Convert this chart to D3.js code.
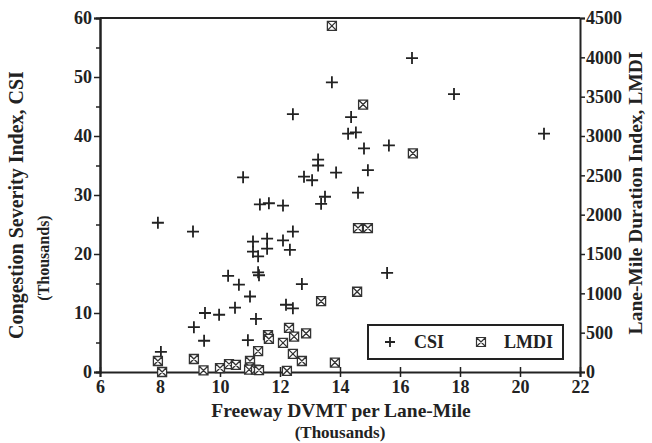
<!DOCTYPE html>
<html>
<head>
<meta charset="utf-8">
<script src="https://cdn.jsdelivr.net/npm/d3@7"></script>
<style>
  body { margin: 0; background: #fff; }
  text { font-family: "Liberation Serif", "Times New Roman", serif; font-weight: bold; fill: #222; }
</style>
</head>
<body>
<script>
// CSI points: x = DVMT per lane-mile (thousands), y = CSI (thousands)
const csiX = [7.93, 9.1, 8.03, 9.13, 9.47, 9.5, 9.97, 10.27, 10.5, 10.63, 11.0, 10.93, 11.2, 11.1, 11.1, 11.27,
  11.27, 11.3, 11.57, 11.57, 12.1, 12.33, 12.43, 12.73, 12.2, 12.43, 11.33, 11.63, 12.1, 13.37, 10.77, 12.43,
  13.27, 13.27, 12.8, 13.07, 13.5, 13.73, 16.4, 17.8, 20.8, 14.37, 14.27, 14.53, 14.8, 15.63, 13.87, 14.93,
  14.6, 15.57];
const csiY = [25.3, 23.8, 3.4, 7.6, 5.3, 10.0, 9.7, 16.3, 10.9, 14.8, 12.8, 5.4, 9.0, 22.1, 20.4, 19.6,
  16.9, 16.4, 22.6, 20.9, 22.3, 20.7, 23.8, 14.9, 11.4, 10.8, 28.4, 28.6, 28.2, 28.5, 33.0, 43.7,
  36.0, 35.0, 33.1, 32.5, 29.7, 49.1, 53.2, 47.1, 40.4, 43.2, 40.4, 40.6, 37.9, 38.4, 33.8, 34.2,
  30.4, 16.8];

// LMDI points: x = DVMT per lane-mile (thousands), y = LMDI
const lmdiX = [7.93, 8.07, 9.13, 9.45, 10.0, 10.3, 10.53, 11.0, 11.0, 10.97, 11.2, 11.3, 11.27, 11.6, 11.63,
  12.1, 12.3, 12.47, 12.87, 12.43, 12.73, 12.23, 13.37, 13.83, 14.57, 14.6, 14.93, 14.77, 16.43, 13.73];
const lmdiY = [140, 0, 165, 20, 50, 100, 90, 140, 60, 30, 30, 25, 265, 470, 420,
  370, 560, 450, 490, 230, 140, 15, 900, 120, 1020, 1830, 1830, 3400, 2780, 4400];

const xTicks = [6, 8, 10, 12, 14, 16, 18, 20, 22];
const yTicks = [0, 10, 20, 30, 40, 50, 60];
const y2Ticks = [0, 500, 1000, 1500, 2000, 2500, 3000, 3500, 4000, 4500];

const width = 652, height = 443;
const m = { top: 18, right: 72, bottom: 71, left: 100 };

const svg = d3.select("body").append("svg").attr("width", width).attr("height", height);

const x = d3.scaleLinear().domain([6, 22]).range([m.left, width - m.right]);
const y = d3.scaleLinear().domain([0, 60]).range([height - m.bottom, m.top]);
const y2 = d3.scaleLinear().domain([0, 4500]).range([height - m.bottom, m.top]);

const fmtAxis = (g) => {
  g.selectAll(".domain").attr("stroke", "#222").attr("stroke-width", 2);
  g.selectAll(".tick line").attr("stroke", "#222").attr("stroke-width", 1.5);
  g.selectAll(".tick text").attr("font-size", 18).attr("fill", "#222")
    .attr("font-family", "Liberation Serif").attr("font-weight", "bold");
};

// top frame line
svg.append("line").attr("x1", x(6)).attr("x2", x(22)).attr("y1", m.top).attr("y2", m.top)
  .attr("stroke", "#222").attr("stroke-width", 2);

// left axis with minor ticks
svg.append("g").attr("transform", `translate(${m.left},0)`)
  .call(d3.axisLeft(y).tickValues(d3.range(5, 60, 10)).tickSize(4).tickFormat(""))
  .call(fmtAxis);
svg.append("g").attr("transform", `translate(${m.left},0)`)
  .call(d3.axisLeft(y).tickValues(yTicks).tickSize(6).tickPadding(2).tickFormat(d3.format("d")))
  .call(fmtAxis);

// right axis
svg.append("g").attr("transform", `translate(${width - m.right},0)`)
  .call(d3.axisRight(y2).tickValues(y2Ticks).tickSize(5).tickPadding(1).tickFormat(d3.format("d")))
  .call(fmtAxis);

// bottom axis
const xa = svg.append("g").attr("transform", `translate(0,${height - m.bottom})`)
  .call(d3.axisBottom(x).tickValues(xTicks).tickSize(5).tickPadding(3).tickFormat(d3.format("d")))
  .call(fmtAxis);
xa.selectAll(".tick line").attr("y1", -5);

// CSI markers (+)
svg.append("g").selectAll("path.csi")
  .data(csiX.map((d, i) => [d, csiY[i]]))
  .join("path")
  .attr("transform", d => `translate(${x(d[0])},${y(d[1])})`)
  .attr("d", "M-6,0H6M0,-6V6")
  .attr("stroke", "#222").attr("stroke-width", 1.8).attr("fill", "none");

// LMDI markers (boxed x)
const boxX = "M-4.5,-4.5H4.5V4.5H-4.5ZM-4.5,-4.5L4.5,4.5M4.5,-4.5L-4.5,4.5";
svg.append("g").selectAll("path.lmdi")
  .data(lmdiX.map((d, i) => [d, lmdiY[i]]))
  .join("path")
  .attr("transform", d => `translate(${x(d[0])},${y2(d[1])})`)
  .attr("d", boxX)
  .attr("stroke", "#333").attr("stroke-width", 1.3).attr("fill", "#fff");

// legend
const lg = svg.append("g");
lg.append("rect").attr("x", 368).attr("y", 325).attr("width", 195).attr("height", 34)
  .attr("fill", "#fff").attr("stroke", "#222").attr("stroke-width", 2);
lg.append("path").attr("transform", "translate(390,342)").attr("d", "M-5,0H5M0,-5V5")
  .attr("stroke", "#222").attr("stroke-width", 1.8);
lg.append("text").attr("x", 414).attr("y", 348).attr("font-size", 18).text("CSI");
lg.append("path").attr("transform", "translate(481,342)").attr("d", boxX)
  .attr("stroke", "#333").attr("stroke-width", 1.2).attr("fill", "#fff");
lg.append("text").attr("x", 504).attr("y", 348).attr("font-size", 18).text("LMDI");

// axis titles
svg.append("text").attr("x", 341).attr("y", 417).attr("text-anchor", "middle")
  .attr("font-size", 19.5).text("Freeway DVMT per Lane-Mile");
svg.append("text").attr("x", 340).attr("y", 438).attr("text-anchor", "middle")
  .attr("font-size", 17).text("(Thousands)");
svg.append("text").attr("transform", "translate(23,205) rotate(-90)").attr("text-anchor", "middle")
  .attr("font-size", 20).text("Congestion Severity Index, CSI");
svg.append("text").attr("transform", "translate(49,258) rotate(-90)").attr("text-anchor", "middle")
  .attr("font-size", 16).text("(Thousands)");
svg.append("text").attr("transform", "translate(642,193) rotate(-90)").attr("text-anchor", "middle")
  .attr("font-size", 19.5).text("Lane-Mile Duration Index, LMDI");
</script>
</body>
</html>
